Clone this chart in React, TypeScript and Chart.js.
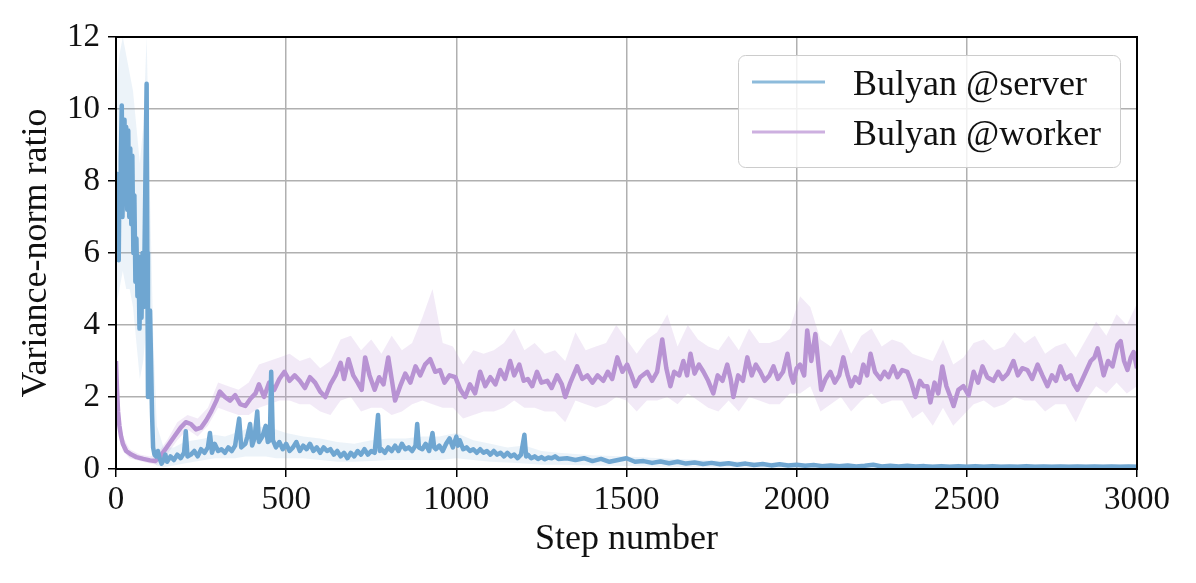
import React, { useEffect, useRef } from "react";
import { Chart, registerables } from "chart.js";

Chart.register(...registerables);

// ---------- data ----------
const SERIES_LABELS = ["Bulyan @server", "Bulyan @worker"];
const X_LABEL = "Step number";
const Y_LABEL = "Variance-norm ratio";
const X_MIN = 0;
const X_MAX = 3000;
const X_STEP = 500;
const Y_MIN = 0;
const Y_MAX = 12;
const Y_STEP = 2;

// [step, ratio] for the server mean line
const serverMean: [number, number][] = [
  [0, 6.8], [2, 8.2], [4, 6.5], [6, 7.6], [8, 5.8], [10, 8.0], [12, 7.2], [14, 8.6], [17, 10.1], [19, 7.0],
  [22, 8.5], [25, 9.7], [27, 7.4], [30, 9.5], [33, 7.2], [36, 9.4], [39, 7.0], [42, 8.9], [45, 6.8], [48, 8.7],
  [51, 6.0], [54, 7.6], [57, 5.2], [60, 6.4], [63, 4.8], [66, 5.9], [69, 3.9], [72, 5.4], [75, 4.2], [78, 6.0],
  [81, 4.5], [84, 6.2], [87, 8.5], [90, 10.7], [92, 6.0], [94, 2.0], [97, 3.5], [100, 4.4], [103, 3.0], [106, 1.5],
  [109, 0.6], [113, 0.4], [118, 0.35], [123, 0.5], [128, 0.3], [134, 0.15], [140, 0.25], [145, 0.4], [150, 0.2],
  [160, 0.35], [170, 0.25], [180, 0.4], [190, 0.3], [200, 0.45], [205, 1.05], [210, 0.35], [220, 0.4], [230, 0.5],
  [240, 0.35], [250, 0.55], [260, 0.45], [270, 0.6], [276, 1.0], [282, 0.45], [290, 0.7], [300, 0.5], [310, 0.55],
  [320, 0.45], [330, 0.6], [340, 0.5], [350, 0.65], [362, 1.4], [368, 0.6], [380, 0.7], [386, 0.9], [394, 1.25],
  [400, 0.65], [407, 0.85], [415, 1.6], [420, 0.75], [430, 0.9], [440, 1.2], [446, 0.75], [452, 0.8], [456, 2.7],
  [461, 0.8], [470, 0.6], [480, 0.75], [490, 0.55], [500, 0.7], [510, 0.5], [520, 0.6], [530, 0.75], [540, 0.5],
  [550, 0.65], [560, 0.55], [570, 0.7], [580, 0.5], [590, 0.6], [600, 0.45], [610, 0.6], [620, 0.5], [630, 0.55],
  [640, 0.4], [650, 0.5], [660, 0.35], [670, 0.45], [680, 0.3], [690, 0.45], [700, 0.35], [710, 0.5], [720, 0.4],
  [730, 0.55], [740, 0.4], [750, 0.5], [760, 0.45], [770, 1.5], [775, 0.5], [780, 0.55], [790, 0.45], [800, 0.6],
  [810, 0.5], [820, 0.65], [830, 0.5], [840, 0.7], [850, 0.55], [860, 0.6], [870, 0.5], [880, 0.65], [885, 1.25],
  [890, 0.6], [900, 0.55], [910, 0.7], [920, 0.5], [930, 1.0], [935, 0.6], [940, 0.55], [950, 0.65], [960, 0.5],
  [970, 0.7], [980, 0.85], [990, 0.6], [1000, 0.9], [1005, 0.65], [1010, 0.8], [1020, 0.55], [1030, 0.6], [1040, 0.5],
  [1050, 0.55], [1060, 0.45], [1070, 0.55], [1080, 0.45], [1090, 0.5], [1100, 0.4], [1110, 0.5], [1120, 0.4],
  [1130, 0.45], [1140, 0.35], [1150, 0.45], [1160, 0.35], [1170, 0.4], [1180, 0.3], [1190, 0.4], [1200, 0.95],
  [1205, 0.35], [1210, 0.4], [1220, 0.3], [1230, 0.35], [1240, 0.28], [1250, 0.33], [1260, 0.27], [1270, 0.32],
  [1280, 0.3], [1290, 0.35], [1300, 0.28], [1325, 0.3], [1350, 0.25], [1375, 0.3], [1400, 0.22], [1425, 0.28],
  [1450, 0.2], [1475, 0.25], [1500, 0.3], [1525, 0.2], [1550, 0.22], [1575, 0.17], [1600, 0.21], [1625, 0.16],
  [1650, 0.2], [1675, 0.15], [1700, 0.18], [1725, 0.14], [1750, 0.17], [1775, 0.13], [1800, 0.16], [1825, 0.12],
  [1850, 0.15], [1875, 0.11], [1900, 0.14], [1925, 0.1], [1950, 0.13], [1975, 0.1], [2000, 0.12], [2025, 0.09],
  [2050, 0.11], [2075, 0.08], [2100, 0.1], [2125, 0.08], [2150, 0.1], [2175, 0.07], [2200, 0.09], [2225, 0.12],
  [2250, 0.07], [2275, 0.09], [2300, 0.07], [2325, 0.09], [2350, 0.07], [2375, 0.08], [2400, 0.06], [2425, 0.08],
  [2450, 0.06], [2475, 0.08], [2500, 0.06], [2525, 0.08], [2550, 0.06], [2575, 0.08], [2600, 0.06], [2625, 0.07],
  [2650, 0.06], [2675, 0.08], [2700, 0.06], [2725, 0.07], [2750, 0.06], [2775, 0.07], [2800, 0.06], [2825, 0.07],
  [2850, 0.06], [2875, 0.07], [2900, 0.06], [2925, 0.07], [2950, 0.06], [2975, 0.07], [3000, 0.06],
];

// [step, upper, lower] for the server spread band
const serverBand: [number, number, number][] = [
  [0, 10.5, 4.5], [10, 11.5, 5.0], [20, 12.0, 5.5], [30, 11.5, 5.0], [40, 11.0, 5.0], [50, 10.5, 4.5],
  [60, 9.5, 3.5], [70, 8.5, 2.5], [80, 9.5, 3.0], [90, 12.0, 4.0], [100, 7.5, 1.5], [110, 3.5, 0.2],
  [120, 1.2, 0.1], [140, 0.6, 0.05], [170, 0.6, 0.1], [200, 0.75, 0.15], [230, 0.8, 0.2], [260, 0.85, 0.25],
  [290, 0.95, 0.3], [320, 0.9, 0.3], [350, 1.0, 0.3], [380, 1.1, 0.35], [410, 1.2, 0.35], [440, 1.15, 0.35],
  [470, 1.1, 0.3], [500, 1.0, 0.3], [550, 0.9, 0.3], [600, 0.85, 0.25], [650, 0.75, 0.2], [700, 0.7, 0.2],
  [750, 0.8, 0.22], [800, 0.85, 0.25], [850, 0.85, 0.25], [900, 0.9, 0.25], [950, 0.9, 0.25], [1000, 1.0, 0.3],
  [1050, 0.8, 0.25], [1100, 0.7, 0.2], [1150, 0.6, 0.18], [1200, 0.65, 0.15], [1250, 0.5, 0.12], [1300, 0.45, 0.12],
  [1400, 0.38, 0.1], [1500, 0.35, 0.08], [1600, 0.3, 0.06], [1700, 0.26, 0.05], [1800, 0.22, 0.04],
  [1900, 0.19, 0.03], [2000, 0.17, 0.03], [2200, 0.14, 0.02], [2400, 0.14, 0.02], [2600, 0.14, 0.02],
  [2800, 0.14, 0.02], [3000, 0.14, 0.02],
];

// [step, ratio] for the worker mean line
const workerMean: [number, number][] = [
  [0, 3.0], [3, 2.2], [6, 1.6], [10, 1.2], [15, 0.9], [20, 0.7], [30, 0.5], [45, 0.4], [60, 0.33], [80, 0.28],
  [100, 0.24], [115, 0.22], [130, 0.35], [145, 0.55], [160, 0.75], [175, 0.95], [190, 1.15], [205, 1.3],
  [220, 1.25], [235, 1.1], [250, 1.15], [265, 1.35], [280, 1.6], [295, 1.9], [305, 2.15], [320, 2.0], [335, 1.9],
  [350, 2.05], [365, 1.8], [380, 1.75], [395, 1.95], [410, 2.1], [420, 2.35], [435, 2.0], [450, 2.4], [465, 2.2],
  [480, 2.5], [495, 2.7], [510, 2.45], [525, 2.6], [540, 2.45], [555, 2.25], [570, 2.55], [585, 2.4], [600, 2.15],
  [615, 2.0], [630, 2.35], [645, 2.6], [660, 2.95], [670, 2.5], [683, 3.05], [697, 2.6], [710, 2.4], [722, 2.2],
  [732, 3.1], [745, 2.6], [760, 2.2], [773, 2.55], [786, 2.35], [800, 3.1], [810, 2.5], [820, 1.9], [835, 2.3],
  [850, 2.65], [865, 2.4], [880, 2.85], [894, 2.6], [908, 2.9], [923, 3.05], [938, 2.7], [952, 2.75], [965, 2.4],
  [980, 2.6], [997, 2.55], [1012, 2.2], [1026, 2.0], [1040, 2.35], [1055, 2.1], [1070, 2.7], [1085, 2.3],
  [1100, 2.55], [1115, 2.35], [1129, 2.75], [1143, 2.5], [1158, 3.0], [1170, 2.6], [1185, 2.9], [1198, 2.45],
  [1210, 2.5], [1223, 2.3], [1237, 2.7], [1250, 2.4], [1267, 2.45], [1280, 2.25], [1296, 2.6], [1310, 2.35],
  [1320, 2.0], [1335, 2.4], [1355, 2.85], [1370, 2.5], [1385, 2.6], [1400, 2.4], [1415, 2.6], [1432, 2.45],
  [1445, 2.7], [1458, 2.5], [1473, 3.1], [1488, 2.7], [1502, 2.9], [1515, 2.6], [1526, 2.3], [1540, 2.55],
  [1561, 2.7], [1575, 2.45], [1590, 2.7], [1605, 3.6], [1617, 2.8], [1629, 2.3], [1640, 2.7], [1655, 2.6],
  [1667, 3.0], [1678, 2.6], [1688, 3.2], [1700, 2.65], [1713, 2.9], [1726, 2.7], [1740, 2.45], [1755, 2.1],
  [1768, 2.6], [1782, 2.45], [1796, 2.9], [1806, 2.5], [1814, 2.0], [1828, 2.6], [1842, 2.45], [1855, 3.1],
  [1868, 2.6], [1880, 2.9], [1893, 2.7], [1906, 2.45], [1920, 2.6], [1932, 2.85], [1945, 2.5], [1960, 2.7],
  [1973, 3.2], [1983, 2.6], [1990, 2.4], [2000, 2.8], [2010, 2.9], [2022, 2.6], [2031, 3.85], [2043, 3.0],
  [2055, 3.75], [2065, 2.8], [2072, 2.2], [2085, 2.5], [2099, 2.7], [2112, 2.4], [2125, 2.6], [2137, 3.1],
  [2150, 2.6], [2160, 2.3], [2172, 2.55], [2184, 2.4], [2196, 2.9], [2207, 2.6], [2217, 3.2], [2230, 2.7],
  [2246, 2.5], [2258, 2.7], [2270, 2.55], [2284, 2.85], [2296, 2.55], [2310, 2.75], [2325, 2.7], [2337, 2.4],
  [2349, 2.0], [2362, 2.45], [2373, 2.3], [2384, 2.3], [2393, 1.85], [2405, 2.4], [2416, 2.1], [2428, 2.85],
  [2440, 2.3], [2450, 2.05], [2461, 1.75], [2475, 2.2], [2490, 2.3], [2505, 2.05], [2520, 2.7], [2533, 2.4],
  [2546, 2.85], [2560, 2.55], [2578, 2.45], [2592, 2.7], [2605, 2.5], [2620, 2.65], [2637, 3.0], [2650, 2.6],
  [2663, 2.8], [2678, 2.75], [2692, 2.5], [2708, 2.9], [2722, 2.6], [2737, 2.3], [2750, 2.6], [2762, 2.45],
  [2775, 2.85], [2790, 2.5], [2805, 2.6], [2815, 2.35], [2825, 2.2], [2840, 2.5], [2852, 2.75], [2864, 3.0],
  [2875, 3.1], [2884, 3.35], [2893, 3.0], [2902, 2.6], [2915, 3.0], [2928, 2.85], [2943, 3.45], [2952, 3.55],
  [2962, 3.0], [2972, 2.75], [2982, 3.1], [2990, 3.25], [3000, 2.8],
];

// [step, upper, lower] for the worker spread band
const workerBand: [number, number, number][] = [
  [0, 3.6, 2.4], [5, 2.6, 1.7], [10, 1.5, 0.9], [20, 0.9, 0.5], [40, 0.55, 0.3], [70, 0.4, 0.22],
  [100, 0.35, 0.15], [120, 0.4, 0.12], [150, 0.8, 0.4], [180, 1.3, 0.8], [210, 1.5, 1.1], [240, 1.4, 0.9],
  [270, 1.7, 1.2], [300, 2.4, 1.7], [330, 2.3, 1.6], [360, 2.2, 1.5], [390, 2.4, 1.5], [420, 2.9, 1.7],
  [450, 3.0, 1.8], [480, 3.1, 1.9], [510, 3.2, 1.9], [540, 3.0, 1.8], [570, 3.1, 1.8], [600, 2.8, 1.6],
  [630, 3.0, 1.5], [660, 3.6, 1.9], [690, 3.7, 2.0], [720, 3.3, 1.6], [750, 3.6, 1.7], [780, 3.2, 1.7],
  [810, 3.7, 1.5], [840, 3.3, 1.6], [870, 3.5, 1.8], [900, 4.2, 1.9], [930, 5.0, 1.8], [960, 3.5, 1.7],
  [990, 3.4, 1.7], [1020, 2.9, 1.4], [1050, 3.3, 1.5], [1080, 3.2, 1.6], [1110, 3.3, 1.6], [1140, 3.5, 1.7],
  [1170, 3.9, 1.9], [1200, 3.3, 1.7], [1230, 3.5, 1.7], [1260, 3.2, 1.6], [1290, 3.3, 1.6], [1320, 3.0, 1.3],
  [1350, 3.8, 1.9], [1380, 3.3, 1.8], [1410, 3.4, 1.7], [1440, 3.5, 1.8], [1470, 4.0, 2.0], [1500, 3.6, 1.9],
  [1530, 3.2, 1.6], [1560, 3.6, 1.9], [1590, 3.8, 1.9], [1620, 4.3, 2.0], [1650, 3.4, 1.8], [1680, 4.0, 2.1],
  [1710, 3.6, 1.9], [1740, 3.4, 1.7], [1770, 3.3, 1.6], [1800, 3.7, 1.9], [1830, 3.3, 1.6], [1860, 3.9, 2.0],
  [1890, 3.5, 1.9], [1920, 3.5, 1.8], [1950, 3.6, 1.8], [1980, 3.9, 2.1], [2010, 4.8, 2.1], [2040, 4.5, 2.3],
  [2070, 3.6, 1.6], [2100, 3.4, 1.8], [2130, 3.9, 2.0], [2160, 3.2, 1.6], [2190, 3.7, 1.9], [2220, 3.9, 2.1],
  [2250, 3.4, 1.8], [2280, 3.6, 1.9], [2310, 3.5, 1.9], [2340, 3.2, 1.4], [2370, 3.1, 1.6], [2400, 3.0, 1.2],
  [2430, 3.6, 1.7], [2460, 2.9, 1.2], [2490, 3.1, 1.5], [2520, 3.5, 1.8], [2550, 3.6, 1.9], [2580, 3.3, 1.7],
  [2610, 3.4, 1.8], [2640, 3.8, 2.0], [2670, 3.5, 1.9], [2700, 3.7, 1.9], [2730, 3.2, 1.6], [2760, 3.4, 1.8],
  [2790, 3.5, 1.8], [2820, 3.1, 1.3], [2850, 3.6, 1.9], [2880, 4.1, 2.3], [2910, 3.7, 2.1], [2940, 4.3, 2.4],
  [2970, 4.0, 2.1], [3000, 4.6, 2.3],
];

// ---------- styling ----------
const FONT = '"Liberation Serif", "DejaVu Serif", serif';
const TEXT = "#111111";
const SERVER_LINE = "#6fa6d1";
const WORKER_LINE = "#b893d3";
const SERVER_LEGEND = "#8dbbdb";
const WORKER_LEGEND = "#cdb0e0";
const SERVER_FILL = "rgba(120,172,212,0.14)";
const WORKER_FILL = "rgba(190,152,216,0.2)";
const GRID = "#b0b0b0";

const W = 1196;
const H = 583;

const framePlugin = {
  id: "frame",
  afterDatasetsDraw(chart: any) {
    const { ctx, chartArea } = chart;
    const { left, top, right, bottom } = chartArea;
    ctx.save();
    ctx.strokeStyle = "#000";
    ctx.lineWidth = 2;
    ctx.strokeRect(left, top, right - left, bottom - top);
    ctx.restore();
  },
};

const legendPlugin = {
  id: "innerLegend",
  afterDraw(chart: any) {
    const { ctx, chartArea } = chart;
    const boxRight = chartArea.right - 17;
    const boxTop = chartArea.top + 18;
    const boxW = 382;
    const boxH = 112;
    const boxLeft = boxRight - boxW;
    ctx.save();
    ctx.beginPath();
    if (ctx.roundRect) ctx.roundRect(boxLeft + 0.5, boxTop + 0.5, boxW, boxH, 7);
    else ctx.rect(boxLeft + 0.5, boxTop + 0.5, boxW, boxH);
    ctx.fillStyle = "rgba(255,255,255,0.82)";
    ctx.fill();
    ctx.strokeStyle = "#cccccc";
    ctx.lineWidth = 1;
    ctx.stroke();

    const colors = [SERVER_LEGEND, WORKER_LEGEND];
    ctx.font = `36px ${FONT}`;
    ctx.textBaseline = "alphabetic";
    ctx.textAlign = "left";
    SERIES_LABELS.forEach((label, i) => {
      const baseY = boxTop + 40 + i * 50;
      ctx.strokeStyle = colors[i];
      ctx.lineWidth = 3;
      ctx.beginPath();
      ctx.moveTo(boxLeft + 14, baseY - 13);
      ctx.lineTo(boxLeft + 87, baseY - 13);
      ctx.stroke();
      ctx.fillStyle = TEXT;
      ctx.fillText(label, boxLeft + 115, baseY);
    });
    ctx.restore();
  },
};

export default function App() {
  const canvasRef = useRef<HTMLCanvasElement | null>(null);

  useEffect(() => {
    if (!canvasRef.current) return;
    Chart.defaults.font.family = FONT;
    Chart.defaults.color = TEXT;

    const toPts = (arr: [number, number][]) => arr.map(([x, y]) => ({ x, y }));
    const bandHi = (arr: [number, number, number][]) => arr.map(([x, hi]) => ({ x, y: hi }));
    const bandLo = (arr: [number, number, number][]) => arr.map(([x, , lo]) => ({ x, y: lo }));

    const chart = new Chart(canvasRef.current, {
      type: "line",
      data: {
        datasets: [
          {
            label: SERIES_LABELS[0],
            data: toPts(serverMean),
            borderColor: SERVER_LINE,
            borderWidth: 4.5,
            pointRadius: 0,
            fill: false,
            tension: 0,
            borderJoinStyle: "round",
            order: 0,
          },
          {
            label: SERIES_LABELS[1],
            data: toPts(workerMean),
            borderColor: WORKER_LINE,
            borderWidth: 4.5,
            pointRadius: 0,
            fill: false,
            tension: 0,
            borderJoinStyle: "round",
            order: 1,
          },
          {
            label: "server-hi",
            data: bandHi(serverBand),
            borderColor: "transparent",
            borderWidth: 0,
            backgroundColor: SERVER_FILL,
            pointRadius: 0,
            fill: "+1",
            order: 2,
          },
          {
            label: "server-lo",
            data: bandLo(serverBand),
            borderColor: "transparent",
            borderWidth: 0,
            pointRadius: 0,
            fill: false,
            order: 3,
          },
          {
            label: "worker-hi",
            data: bandHi(workerBand),
            borderColor: "transparent",
            borderWidth: 0,
            backgroundColor: WORKER_FILL,
            pointRadius: 0,
            fill: "+1",
            order: 4,
          },
          {
            label: "worker-lo",
            data: bandLo(workerBand),
            borderColor: "transparent",
            borderWidth: 0,
            pointRadius: 0,
            fill: false,
            order: 5,
          },
        ],
      },
      options: {
        responsive: false,
        animation: false,
        events: [],
        layout: { padding: { left: 0, top: 37, right: 59, bottom: 0 } },
        plugins: {
          legend: { display: false },
          tooltip: { enabled: false },
          title: { display: false },
        },
        scales: {
          x: {
            type: "linear",
            min: X_MIN,
            max: X_MAX,
            ticks: {
              stepSize: X_STEP,
              autoSkip: false,
              maxRotation: 0,
              padding: 4,
              color: TEXT,
              font: { size: 33, family: FONT },
              callback: (v: any) => String(v),
            },
            grid: { color: GRID, lineWidth: 1.5, tickColor: "#000", tickLength: 8, tickWidth: 1.5 },
            border: { display: false },
            title: {
              display: true,
              text: X_LABEL,
              color: TEXT,
              font: { size: 36, family: FONT, lineHeight: 1 },
              padding: { top: 0, bottom: 25 },
            },
            afterFit: (s: any) => {
              s.height = 114;
            },
          },
          y: {
            type: "linear",
            min: Y_MIN,
            max: Y_MAX,
            ticks: {
              stepSize: Y_STEP,
              padding: 8,
              color: TEXT,
              font: { size: 33, family: FONT },
            },
            grid: { color: GRID, lineWidth: 1.5, tickColor: "#000", tickLength: 8, tickWidth: 1.5 },
            border: { display: false },
            title: {
              display: true,
              text: Y_LABEL,
              color: TEXT,
              font: { size: 36, family: FONT, lineHeight: 1 },
              padding: { top: 19, bottom: 0 },
            },
            afterFit: (s: any) => {
              s.width = 116;
            },
          },
        },
      },
      plugins: [framePlugin, legendPlugin],
    } as any);

    return () => chart.destroy();
  }, []);

  return (
    <div style={{ position: "absolute", left: 0, top: 0, width: W, height: H, background: "#fff" }}>
      <canvas ref={canvasRef} width={W} height={H} style={{ display: "block" }} />
    </div>
  );
}
